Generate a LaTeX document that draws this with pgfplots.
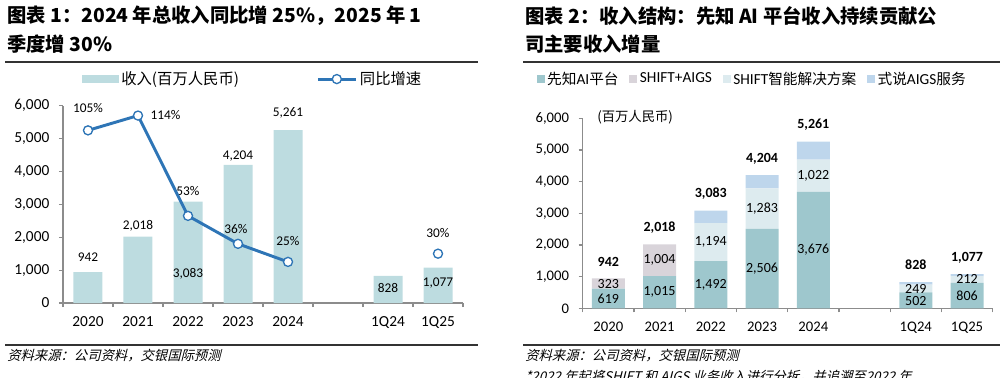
\documentclass[border=0pt]{standalone}
\usepackage{fontspec}
\setmainfont{Carlito}
\newfontfamily\cjk{Noto Sans CJK SC}
\newfontfamily\cjksl{Noto Sans CJK SC}[FakeSlant=0.25]
\usepackage{pgfplots}
\pgfplotsset{compat=1.18}
\definecolor{barL}{HTML}{BDDCE0}
\definecolor{lineB}{HTML}{2E75B6}
\definecolor{cA}{HTML}{9EC7CD}
\definecolor{cB}{HTML}{D9D4DA}
\definecolor{cC}{HTML}{DDEBEF}
\definecolor{cD}{HTML}{BED6EC}
\definecolor{axg}{HTML}{8C8C8C}
\definecolor{rule}{HTML}{333333}
\def\px{0.75pt}
\tikzset{
  labL/.style={font=\fontsize{10}{12}\selectfont},
  labR/.style={font=\fontsize{10.5}{12}\selectfont},
  labT/.style={font=\bfseries\fontsize{10.5}{12}\selectfont},
}
\pgfplotsset{
  common/.style={
    scale only axis,
    xmin=-0.5, xmax=7.5, ymin=0, ymax=6000,
    axis x line*=bottom, axis y line*=left,
    axis line style={draw=axg, line width=0.9pt},
    xtick={0,...,7},
    xticklabels={2020,2021,2022,2023,2024,,1Q24,1Q25},
    major x tick style={draw=none},
    minor xtick={-0.5,0.5,...,7.5},
    minor x tick style={draw=axg, line width=0.9pt},
    minor tick length=4*\px,
    ytick={0,1000,...,6000},
    y tick style={draw=axg, line width=0.9pt},
    major tick length=4*\px,
    tick align=outside,
    scaled y ticks=false,
    yticklabel style={/pgf/number format/1000 sep={,}, /pgf/number format/assume math mode=true, xshift=-5*\px},
    xticklabel style={yshift=-5*\px},
    clip=false,
  },
}
\begin{document}
\begin{tikzpicture}[x=\px, y=-\px]
\useasboundingbox (0,0) rectangle (1004,378);

% ---------------- Left panel ----------------
\node[anchor=west, inner sep=0, font=\cjk\bfseries\fontsize{14.5}{16}\selectfont] at (7,16) {图表 1：2024 年总收入同比增 25\%，2025 年 1};
\node[anchor=west, inner sep=0, font=\cjk\bfseries\fontsize{14.5}{16}\selectfont] at (7,44) {季度增 30\%};
\draw[rule, line width=2*\px] (5,62) -- (478,62);

\begin{axis}[common,
  at={(63*\px,-303*\px)}, anchor=south west,
  width=400*\px, height=197.3*\px,
  ticklabel style={font=\fontsize{11.5}{13}\selectfont},
  legend style={at={(0.036,1.135)}, anchor=west, draw=none, fill=none,
    legend columns=2, font=\cjk\fontsize{11.5}{13}\selectfont,
    /tikz/every even column/.append style={column sep=56pt}},
]
\addplot[ybar, bar width=29*\px, fill=barL, draw=none,
  legend image code/.code={\fill[barL] (0pt,-3pt) rectangle (27.75pt,3pt);}]
  coordinates {(0,942)(1,2018)(2,3083)(3,4204)(4,5261)(6,828)(7,1077)};
\addlegendentry{收入(百万人民币)}
\addlegendimage{lineB, line width=2.2pt, legend image code/.code={
  \draw[lineB, line width=2.2pt] (0pt,0pt) -- (28.5pt,0pt);
  \draw[lineB, fill=white, line width=1pt] (14.25pt,0pt) circle (3.4pt);}}
\addlegendentry{同比增速}
\node[labL] at (axis cs:0,1399) {942};
\node[labL] at (axis cs:1,2342) {2,018};
\node[labL] at (axis cs:2,903) {3,083};
\node[labL] at (axis cs:3,4470) {4,204};
\node[labL] at (axis cs:4,5769) {5,261};
\node[labL] at (axis cs:6,466) {828};
\node[labL] at (axis cs:7,618) {1,077};
\node[labL] at (axis cs:0,5921) {105\%};
\node[labL] at (axis cs:1.55,5717) {114\%};
\node[labL] at (axis cs:2,3406) {53\%};
\node[labL] at (axis cs:2.96,2240) {36\%};
\node[labL] at (axis cs:4,1895) {25\%};
\node[labL] at (axis cs:7,2138) {30\%};
\end{axis}

\begin{axis}[
  at={(63*\px,-303*\px)}, anchor=south west,
  scale only axis, width=400*\px, height=197.3*\px,
  xmin=-0.5, xmax=7.5, ymin=0, ymax=120,
  hide axis, clip=false,
]
\addplot[lineB, line width=2.2pt, mark=*,
  mark options={fill=white, draw=lineB, line width=1pt}, mark size=3.4pt]
  coordinates {(0,105)(1,114)(2,53)(3,36)(4,25)};
\addplot[only marks, mark=*, mark options={fill=white, draw=lineB, line width=1pt}, mark size=3.4pt]
  coordinates {(7,30)};
\end{axis}

\draw[rule, line width=1.5*\px] (5,345) -- (478,345);
\node[anchor=west, inner sep=0, font=\cjksl\fontsize{10}{12}\selectfont] at (7,356) {资料来源：公司资料，交银国际预测};

% ---------------- Right panel ----------------
\node[anchor=west, inner sep=0, font=\cjk\bfseries\fontsize{14.5}{16}\selectfont] at (525,16) {图表 2：收入结构：先知 AI 平台收入持续贡献公};
\node[anchor=west, inner sep=0, font=\cjk\bfseries\fontsize{14.5}{16}\selectfont] at (525,44) {司主要收入增量};
\draw[rule, line width=2*\px] (523,62) -- (1000,62);

\begin{axis}[common,
  at={(582.7*\px,-308.3*\px)}, anchor=south west,
  width=410*\px, height=190*\px,
  ybar stacked, bar width=33*\px,
  ticklabel style={font=\fontsize{11}{13}\selectfont},
  legend style={at={(-0.123,1.207)}, anchor=west, draw=none, fill=none,
    legend columns=4, font=\fontsize{11.5}{12}\selectfont,
    /tikz/every even column/.append style={column sep=6pt}},
]
\addplot[fill=cA, draw=none, legend image code/.code={\fill[cA] (0pt,-3pt) rectangle (6pt,3pt);}]
  coordinates {(0,619)(1,1015)(2,1492)(3,2506)(4,3676)(6,502)(7,806)};
\addlegendentry{{\cjk\fontsize{11}{12}\selectfont 先知}AI{\cjk\fontsize{11}{12}\selectfont 平台}}
\addplot[fill=cB, draw=none, legend image code/.code={\fill[cB] (0pt,-3pt) rectangle (6pt,3pt);}]
  coordinates {(0,323)(1,1004)(2,0)(3,0)(4,0)(6,0)(7,0)};
\addlegendentry{SHIFT+AIGS}
\addplot[fill=cC, draw=none, legend image code/.code={\fill[cC] (0pt,-3pt) rectangle (6pt,3pt);}]
  coordinates {(0,0)(1,0)(2,1194)(3,1283)(4,1022)(6,249)(7,212)};
\addlegendentry{SHIFT{\cjk\fontsize{11}{12}\selectfont 智能解决方案}}
\addplot[fill=cD, draw=none, legend image code/.code={\fill[cD] (0pt,-3pt) rectangle (6pt,3pt);}]
  coordinates {(0,0)(1,0)(2,397)(3,415)(4,563)(6,77)(7,59)};
\addlegendentry{{\cjk\fontsize{11}{12}\selectfont 式说}AIGS{\cjk\fontsize{11}{12}\selectfont 服务}}
\end{axis}

\begin{axis}[
  at={(582.7*\px,-308.3*\px)}, anchor=south west,
  scale only axis, width=410*\px, height=190*\px,
  xmin=-0.5, xmax=7.5, ymin=0, ymax=6000,
  hide axis, clip=false,
]
\addplot[draw=none, forget plot] coordinates {(0,0)};
\node[labR] at (axis cs:0,310) {619};
\node[labR] at (axis cs:0,780) {323};
\node[labR] at (axis cs:1,507) {1,015};
\node[labR] at (axis cs:1,1517) {1,004};
\node[labR] at (axis cs:2,746) {1,492};
\node[labR] at (axis cs:2,2089) {1,194};
\node[labR] at (axis cs:3,1253) {2,506};
\node[labR] at (axis cs:3,3147) {1,283};
\node[labR] at (axis cs:4,1838) {3,676};
\node[labR] at (axis cs:4,4187) {1,022};
\node[labR] at (axis cs:6,235) {502};
\node[labR] at (axis cs:6,620) {249};
\node[labR] at (axis cs:7,380) {806};
\node[labR] at (axis cs:7,914) {212};
\node[labT] at (axis cs:0,1453) {942};
\node[labT] at (axis cs:1,2558) {2,018};
\node[labT] at (axis cs:2,3609) {3,083};
\node[labT] at (axis cs:3,4715) {4,204};
\node[labT] at (axis cs:4,5788) {5,261};
\node[labT] at (axis cs:6,1367) {828};
\node[labT] at (axis cs:7,1598) {1,077};
\end{axis}
\node[anchor=west, inner sep=0, font=\cjk\fontsize{10}{11}\selectfont] at (597,117) {(百万人民币)};

\draw[rule, line width=1.5*\px] (523,345) -- (1000,345);
\node[anchor=west, inner sep=0, font=\cjksl\fontsize{10}{12}\selectfont] at (525,356) {资料来源：公司资料，交银国际预测};
\node[anchor=west, inner sep=0, font=\cjksl\fontsize{10}{12}\selectfont] at (525,377) {*2022 年起将SHIFT 和 AIGS 业务收入进行分拆，并追溯至2022 年};
\end{tikzpicture}
\end{document}
